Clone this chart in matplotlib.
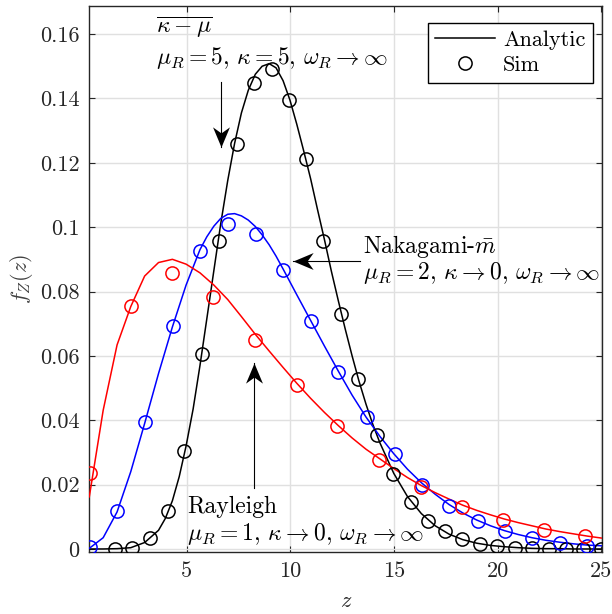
import numpy as np
import matplotlib
matplotlib.use("Agg")
import matplotlib.pyplot as plt
from matplotlib.path import Path
from matplotlib.lines import Line2D

plt.rcParams["font.family"] = "serif"
plt.rcParams["font.serif"] = ["cmr10", "DejaVu Serif"]
plt.rcParams["mathtext.fontset"] = "cm"
plt.rcParams["axes.unicode_minus"] = False
plt.rcParams["axes.formatter.use_mathtext"] = True

# ---- analytic curves ----
kappa_mu_z = [0.30, 0.97, 1.64, 2.30, 2.97, 3.64, 3.97, 4.31, 4.64, 4.97,
              5.31, 5.64, 5.97, 6.31, 6.64, 6.98, 7.31, 7.64, 7.97, 8.31,
              8.64, 8.98, 9.31, 9.65, 9.98, 10.31, 10.64, 10.98, 11.31, 11.65,
              11.98, 12.32, 12.65, 12.98, 13.31, 13.65, 13.98, 14.32, 14.99, 15.65,
              16.32, 16.99, 17.66, 18.32, 18.99, 19.66, 20.33, 20.99, 21.66, 22.33,
              23.00, 23.66, 24.33, 25.00]
kappa_mu_pdf = [0.0000, 0.0000, 0.0001, 0.0004, 0.0020, 0.0058, 0.0095, 0.0150, 0.0225, 0.0320,
                0.0435, 0.0570, 0.0715, 0.0865, 0.1010, 0.1145, 0.1260, 0.1355, 0.1425, 0.1475,
                0.1500, 0.1508, 0.1495, 0.1455, 0.1395, 0.1320, 0.1238, 0.1150, 0.1055, 0.0960,
                0.0863, 0.0770, 0.0683, 0.0600, 0.0522, 0.0450, 0.0387, 0.0330, 0.0235, 0.0163,
                0.0110, 0.0072, 0.0046, 0.0029, 0.0018, 0.0011, 0.0007, 0.0004, 0.0002, 0.0001,
                0.0001, 0.0000, 0.0000, 0.0000]

nakagami_z = [0.30, 0.97, 1.64, 2.30, 2.97, 3.64, 4.31, 4.97, 5.64, 5.97,
              6.31, 6.64, 6.98, 7.31, 7.64, 7.97, 8.31, 8.64, 8.98, 9.31,
              9.65, 10.31, 10.98, 11.65, 12.32, 12.98, 13.65, 14.32, 14.99, 15.65,
              16.32, 16.99, 17.66, 18.32, 18.99, 19.66, 20.33, 20.99, 21.66, 22.33,
              23.00, 23.66, 24.33, 25.00]
nakagami_pdf = [0.0002, 0.0035, 0.0115, 0.0240, 0.0390, 0.0545, 0.0690, 0.0820, 0.0930, 0.0970,
                0.1003, 0.1027, 0.1040, 0.1042, 0.1035, 0.1022, 0.1002, 0.0976, 0.0945, 0.0910,
                0.0870, 0.0790, 0.0710, 0.0630, 0.0552, 0.0478, 0.0410, 0.0350, 0.0296, 0.0248,
                0.0206, 0.0170, 0.0138, 0.0112, 0.0090, 0.0072, 0.0057, 0.0045, 0.0035, 0.0027,
                0.0021, 0.0016, 0.0012, 0.0010]

rayleigh_z = [0.30, 0.97, 1.64, 2.30, 2.97, 3.64, 4.31, 4.97, 5.64, 6.31,
              6.98, 7.64, 8.31, 8.98, 9.65, 10.31, 10.98, 11.65, 12.32, 12.98,
              13.65, 14.32, 14.99, 15.65, 16.32, 16.99, 17.66, 18.32, 18.99, 19.66,
              20.33, 20.99, 21.66, 22.33, 23.00, 23.66, 24.33, 25.00]
rayleigh_pdf = [0.0162, 0.0431, 0.0634, 0.0753, 0.0848, 0.0890, 0.0900, 0.0885, 0.0858, 0.0820,
                0.0775, 0.0722, 0.0667, 0.0615, 0.0564, 0.0515, 0.0468, 0.0424, 0.0383, 0.0345,
                0.0310, 0.0280, 0.0250, 0.0222, 0.0197, 0.0175, 0.0155, 0.0136, 0.0120, 0.0106,
                0.0093, 0.0082, 0.0072, 0.0062, 0.0054, 0.0047, 0.0040, 0.0034]

# ---- simulated histograms ----
kappa_mu_sim_z = [1.55, 2.38, 3.24, 4.09, 4.89, 5.73, 6.58, 7.41, 8.27, 9.10,
                  9.92, 10.74, 11.59, 12.44, 13.25, 14.17, 14.97, 15.82, 16.62, 17.46,
                  18.29, 19.15, 19.98, 20.83, 21.66, 22.47, 23.30, 24.10, 24.97]
kappa_mu_sim = [0.0001, 0.0003, 0.0034, 0.0118, 0.0305, 0.0606, 0.0957, 0.1257, 0.1448, 0.1491,
                0.1396, 0.1211, 0.0957, 0.0730, 0.0527, 0.0354, 0.0234, 0.0146, 0.0087, 0.0056,
                0.0031, 0.0017, 0.0008, 0.0004, 0.0002, 0.0001, 0.0001, 0.0000, 0.0000]

nakagami_sim_z = [0.35, 1.66, 2.99, 4.33, 5.65, 6.98, 8.32, 9.66, 11.00, 12.31,
                  13.68, 15.05, 16.34, 17.67, 19.07, 20.35, 21.67, 23.00, 24.32]
nakagami_sim = [0.0006, 0.0118, 0.0393, 0.0694, 0.0926, 0.1009, 0.0978, 0.0867, 0.0709, 0.0551,
                0.0409, 0.0294, 0.0198, 0.0134, 0.0087, 0.0055, 0.0035, 0.0020, 0.0009]

rayleigh_sim_z = [0.35, 2.32, 4.31, 6.29, 8.29, 10.31, 12.27, 14.28, 16.29, 18.26,
                  20.24, 22.25, 24.24]
rayleigh_sim = [0.0236, 0.0755, 0.0857, 0.0784, 0.0649, 0.0511, 0.0382, 0.0276, 0.0193, 0.0131,
                0.0089, 0.0058, 0.0040]

x_ticks = [5, 10, 15, 20, 25]
y_ticks = [0, 0.02, 0.04, 0.06, 0.08, 0.1, 0.12, 0.14, 0.16]
y_tick_labels = ["0", "0.02", "0.04", "0.06", "0.08", "0.1", "0.12", "0.14", "0.16"]

AX_COLOR = "#262626"
FS = 16
FS_NOTE = 17

fig = plt.figure(figsize=(6.12, 6.14), dpi=100)
ax = fig.add_axes([0.1459, 0.1015, 0.8382, 0.8892])

mk = dict(marker="o", markersize=9.5, markerfacecolor="none", markeredgewidth=1.1,
          linestyle="none")
series = [
    (kappa_mu_z, kappa_mu_pdf, kappa_mu_sim_z, kappa_mu_sim, "k"),
    (nakagami_z, nakagami_pdf, nakagami_sim_z, nakagami_sim, "#0000ff"),
    (rayleigh_z, rayleigh_pdf, rayleigh_sim_z, rayleigh_sim, "#ff0000"),
]
for gz, pdf, sz, sv, c in series:
    ax.plot(gz, pdf, color=c, linewidth=1.1, zorder=3)
    ax.plot(sz, sv, color=c, markeredgecolor=c, zorder=4, **mk)

ax.set_xlim(0.3, 25.05)
ax.set_ylim(-0.00084, 0.1688)
ax.set_xticks(x_ticks)
ax.set_xticklabels([str(t) for t in x_ticks])
ax.set_yticks(y_ticks)
ax.set_yticklabels(y_tick_labels)

ax.grid(True, color="#e0e0e0", linewidth=1.0, zorder=0)
ax.set_axisbelow(True)
for s in ax.spines.values():
    s.set_color(AX_COLOR)
    s.set_linewidth(1.0)
ax.tick_params(direction="in", length=4, width=0.8, colors=AX_COLOR,
               labelsize=FS, top=True, right=True, pad=7)

ax.set_xlabel(r"$z$", fontsize=FS, color=AX_COLOR, va="center")
ax.set_ylabel(r"$f_Z(z)$", fontsize=FS, color="#404040", va="center")
ax.xaxis.set_label_coords(0.5, -0.0916)
ax.yaxis.set_label_coords(-0.133, 0.5)

# legend
handles = [Line2D([], [], color="k", linewidth=1.1),
           Line2D([], [], color="k", markeredgecolor="k", **mk)]
leg = ax.legend(handles, ["Analytic", "Sim"], loc="upper right",
                bbox_to_anchor=(0.9825, 0.9689), borderaxespad=0,
                fancybox=False, framealpha=1, edgecolor="k", fontsize=FS,
                handlelength=2.7, handletextpad=0.35, labelspacing=0.25,
                borderpad=0.35)
leg.get_frame().set_linewidth(1.0)
leg.set_zorder(10)


def head_marker(direction):
    # notched arrowhead with its tip at the origin
    verts = np.array([(0, 0), (-0.42, -1.0), (0, -0.7), (0.42, -1.0), (0, 0)])
    rot = {"up": 0, "down": np.pi, "left": np.pi / 2, "right": -np.pi / 2}[direction]
    c, s = np.cos(rot), np.sin(rot)
    v = verts @ np.array([[c, s], [-s, c]])
    codes = [Path.MOVETO, Path.LINETO, Path.LINETO, Path.LINETO, Path.CLOSEPOLY]
    return Path(v, codes)


def arrow(x0, y0, x1, y1, direction):
    ax.plot([x0, x1], [y0, y1], color="k", linewidth=0.8, zorder=6)
    ax.plot([x1], [y1], marker=head_marker(direction), markersize=29,
            color="k", markeredgewidth=0, zorder=7)


# annotations
ax.text(3.52, 0.1620, r"$\overline{\kappa-\mu}$", fontsize=FS_NOTE, va="center", ha="left")
ax.text(3.52, 0.1527, r"$\mu_R=5,\,\kappa=5,\,\omega_R\rightarrow\infty$",
        fontsize=FS_NOTE, va="center", ha="left")
arrow(6.64, 0.1451, 6.64, 0.1249, "down")

ax.text(13.52, 0.0941, r"Nakagami-$\bar{m}$", fontsize=FS_NOTE, va="center", ha="left")
ax.text(13.52, 0.0858, r"$\mu_R=2,\,\kappa\rightarrow 0,\,\omega_R\rightarrow\infty$",
        fontsize=FS_NOTE, va="center", ha="left")
arrow(13.36, 0.0895, 10.13, 0.0895, "left")

ax.text(5.02, 0.0130, r"Rayleigh", fontsize=FS_NOTE, va="center", ha="left")
ax.text(5.02, 0.0047, r"$\mu_R=1,\,\kappa\rightarrow 0,\,\omega_R\rightarrow\infty$",
        fontsize=FS_NOTE, va="center", ha="left")
arrow(8.26, 0.0190, 8.26, 0.0578, "up")

fig.savefig("out.png", dpi=100)
